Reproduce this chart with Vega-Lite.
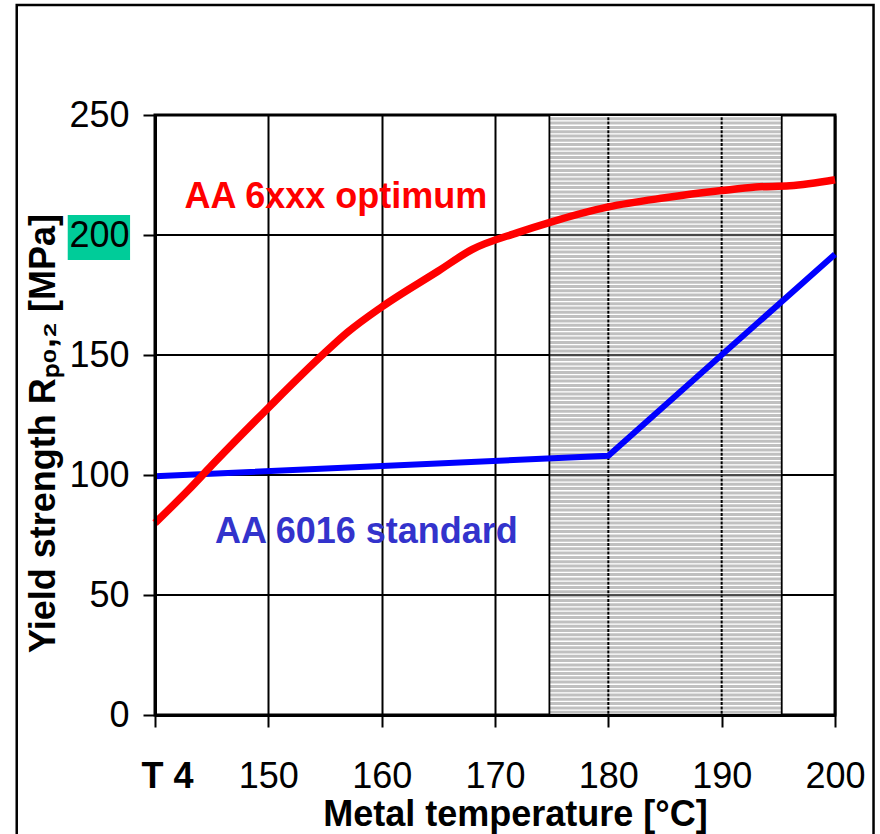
{
  "$schema": "https://vega.github.io/schema/vega-lite/v6.json",
  "width": 680,
  "height": 600,
  "autosize": {"type": "none"},
  "padding": {"left": 155, "top": 115, "right": 45, "bottom": 119},
  "background": "white",
  "config": {
    "view": {"stroke": "black", "strokeWidth": 3},
    "font": "Liberation Sans"
  },
  "datasets": {
    "frame": [{"T": 127.8, "T2": 203.4, "R": 295.8, "R2": -60}],
    "ygrid": [
      {"T": 140, "T2": 200, "R": 50},
      {"T": 140, "T2": 200, "R": 100},
      {"T": 140, "T2": 200, "R": 150},
      {"T": 140, "T2": 200, "R": 200}
    ],
    "shade": [{"T": 174.8, "T2": 195.3, "R": 0, "R2": 250}],
    "shadeStripe": [{"T": 185.05, "R": 0, "R2": 250}],
    "vgrid": [{"T": 180, "R": 0, "R2": 250}, {"T": 190, "R": 0, "R2": 250}],
    "hgrid": [
      {"T": 174.8, "T2": 195.3, "R": 50},
      {"T": 174.8, "T2": 195.3, "R": 100},
      {"T": 174.8, "T2": 195.3, "R": 150},
      {"T": 174.8, "T2": 195.3, "R": 200}
    ],
    "highlight": [{"T": 132.3, "T2": 137.8, "R": 189.6, "R2": 208.3}],
    "optimum": [
      {"T": 140, "R": 80},
      {"T": 143, "R": 94},
      {"T": 145, "R": 104},
      {"T": 150, "R": 128},
      {"T": 155, "R": 151},
      {"T": 157, "R": 159.5},
      {"T": 160, "R": 170},
      {"T": 165, "R": 185},
      {"T": 168, "R": 194},
      {"T": 172, "R": 201},
      {"T": 175, "R": 205.5},
      {"T": 180, "R": 211.7},
      {"T": 185, "R": 215.5},
      {"T": 190, "R": 218.5},
      {"T": 193, "R": 220},
      {"T": 196, "R": 220.5},
      {"T": 200, "R": 223}
    ],
    "standard": [
      {"T": 140, "R": 99.5},
      {"T": 180, "R": 108},
      {"T": 200, "R": 192}
    ],
    "labels": [
      {"T": 142.6, "R": 211.3, "label": "AA 6xxx optimum", "series": "optimum"},
      {"T": 145.3, "R": 71.7, "label": "AA 6016 standard", "series": "standard"}
    ]
  },
  "layer": [
    {
      "data": {"name": "frame"},
      "mark": {"type": "rect", "fill": null, "fillOpacity": 0, "stroke": "black", "strokeWidth": 2.5},
      "encoding": {
        "x": {"field": "T", "type": "quantitative", "scale": {"domain": [140, 200], "nice": false, "zero": false},
          "axis": {
            "values": [140, 150, 160, 170, 180, 190, 200],
            "labelExpr": "datum.value == 140 ? 'T 4' : datum.label",
            "labelFontWeight": {"condition": {"test": "datum.value == 140", "value": "bold"}, "value": "normal"},
            "labelOffset": {"condition": {"test": "datum.value == 140", "value": 12}, "value": 0},
            "grid": true, "gridColor": "black", "gridWidth": 2,
            "domainColor": "black", "domainWidth": 3,
            "tickColor": "black", "tickWidth": 2, "tickSize": 12,
            "labelFont": "Liberation Sans", "labelFontSize": 36, "labelColor": "black", "labelPadding": 32,
            "labelFlush": false, "labelOverlap": false,
            "title": "Metal temperature [°C]", "titleFont": "Liberation Sans", "titleFontSize": 36,
            "titleFontWeight": "bold", "titleColor": "black", "titlePadding": 3, "titleX": 360
          }},
        "x2": {"field": "T2"},
        "y": {"field": "R", "type": "quantitative", "scale": {"domain": [0, 250], "nice": false, "zero": false},
          "axis": {
            "values": [0, 50, 100, 150, 200, 250],
            "grid": false, "zindex": 1,
            "domainColor": "black", "domainWidth": 3,
            "tickColor": "black", "tickWidth": 2, "tickSize": 12,
            "labelFont": "Liberation Sans", "labelFontSize": 36, "labelColor": "black", "labelPadding": 14,
            "labelFlush": false, "labelOverlap": false,
            "title": "Yield strength Rₚ₀,₂ [MPa]", "titleFont": "Liberation Sans", "titleFontSize": 36,
            "titleFontWeight": "bold", "titleColor": "black", "titlePadding": 6, "titleY": 318
          }},
        "y2": {"field": "R2"}
      }
    },
    {
      "data": {"name": "ygrid"},
      "mark": {"type": "rule", "stroke": "black", "strokeWidth": 2},
      "encoding": {
        "x": {"field": "T", "type": "quantitative"},
        "x2": {"field": "T2"},
        "y": {"field": "R", "type": "quantitative"}
      }
    },
    {
      "data": {"name": "shade"},
      "mark": {"type": "rect", "fill": "#c0c0c0"},
      "encoding": {
        "x": {"field": "T", "type": "quantitative"},
        "x2": {"field": "T2"},
        "y": {"field": "R", "type": "quantitative"},
        "y2": {"field": "R2"}
      }
    },
    {
      "data": {"name": "vgrid"},
      "mark": {"type": "rule", "stroke": "black", "strokeWidth": 2},
      "encoding": {
        "x": {"field": "T", "type": "quantitative"},
        "y": {"field": "R", "type": "quantitative"},
        "y2": {"field": "R2"}
      }
    },
    {
      "data": {"name": "shadeStripe"},
      "mark": {"type": "rule", "stroke": "white", "strokeWidth": 232.4, "strokeDash": [1.3, 3], "strokeCap": "butt"},
      "encoding": {
        "x": {"field": "T", "type": "quantitative"},
        "y": {"field": "R", "type": "quantitative"},
        "y2": {"field": "R2"}
      }
    },
    {
      "data": {"name": "hgrid"},
      "mark": {"type": "rule", "stroke": "#222222", "strokeWidth": 1.5},
      "encoding": {
        "x": {"field": "T", "type": "quantitative"},
        "x2": {"field": "T2"},
        "y": {"field": "R", "type": "quantitative"}
      }
    },
    {
      "data": {"name": "shade"},
      "mark": {"type": "rect", "fill": null, "fillOpacity": 0, "stroke": "black", "strokeWidth": 1.8},
      "encoding": {
        "x": {"field": "T", "type": "quantitative"},
        "x2": {"field": "T2"},
        "y": {"field": "R", "type": "quantitative"},
        "y2": {"field": "R2"}
      }
    },
    {
      "data": {"name": "highlight"},
      "mark": {"type": "rect", "fill": "#00cc99"},
      "encoding": {
        "x": {"field": "T", "type": "quantitative"},
        "x2": {"field": "T2"},
        "y": {"field": "R", "type": "quantitative"},
        "y2": {"field": "R2"}
      }
    },
    {
      "data": {"name": "standard"},
      "mark": {"type": "line", "stroke": "#0000ff", "strokeWidth": 6, "strokeJoin": "miter"},
      "encoding": {
        "x": {"field": "T", "type": "quantitative"},
        "y": {"field": "R", "type": "quantitative"}
      }
    },
    {
      "data": {"name": "optimum"},
      "mark": {"type": "line", "stroke": "#ff0000", "strokeWidth": 7.5, "strokeJoin": "round", "interpolate": "monotone"},
      "encoding": {
        "x": {"field": "T", "type": "quantitative"},
        "y": {"field": "R", "type": "quantitative"}
      }
    },
    {
      "data": {"name": "labels"},
      "mark": {"type": "text", "align": "left", "baseline": "alphabetic", "font": "Liberation Sans", "fontSize": 36, "fontWeight": "bold"},
      "encoding": {
        "x": {"field": "T", "type": "quantitative"},
        "y": {"field": "R", "type": "quantitative"},
        "text": {"field": "label"},
        "color": {"field": "series", "type": "nominal", "scale": {"domain": ["optimum", "standard"], "range": ["#ff0000", "#3333cc"]}, "legend": null}
      }
    }
  ]
}
